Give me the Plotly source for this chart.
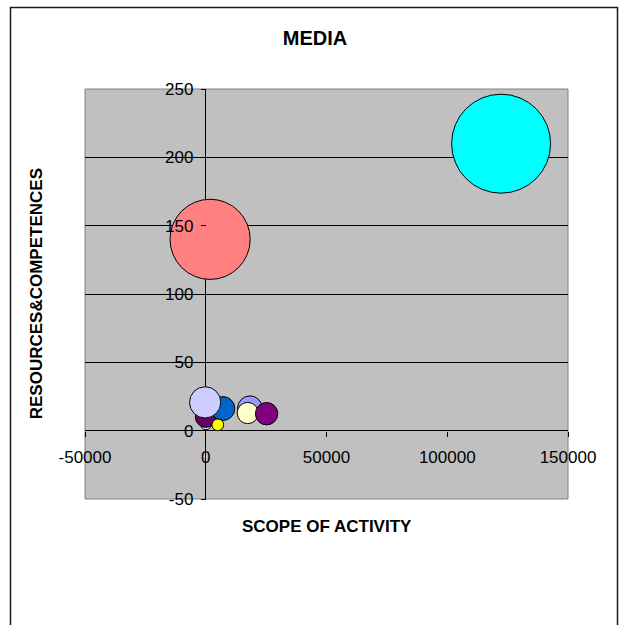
import plotly.graph_objects as go

# Media companies: scope of activity vs. resources & competences, bubble = size
scope = [18300, 17400, 100, 0, 1800, 7100, -250, 5000, 122300, 25200]
resources = [16.4, 12.9, 4.5, 10.0, 140.0, 16.2, 20.7, 4.3, 210.0, 12.4]
bubble_size = [6.25, 4.6, 1.1, 4.4, 65.6, 5.8, 10.0, 1.4, 100.0, 5.1]
colors = ["#9999FF", "#FFFFCC", "#CCFFFF", "#660066", "#FF8080",
          "#0066CC", "#CCCCFF", "#FFFF00", "#00FFFF", "#800080"]

x_ticks = [-50000, 0, 50000, 100000, 150000]
y_ticks = [-50, 0, 50, 100, 150, 200, 250]
x_range = [-50000, 150000]
y_range = [-50, 250]

W, H = 619, 625
L, R, T, B = 85, 51, 89, 125.5
plot_w = W - L - R
plot_h = H - T - B


def px_x(px):
    return (px - L) / plot_w


def px_y(py):
    return (H - B - py) / plot_h


MAX_DIAM = 99
sizeref = 2.0 * max(bubble_size) / MAX_DIAM ** 2

font_family = "Liberation Sans, Arial, sans-serif"

fig = go.Figure(
    go.Scatter(
        x=scope,
        y=resources,
        mode="markers",
        marker=dict(
            size=bubble_size,
            sizemode="area",
            sizeref=sizeref,
            color=colors,
            opacity=1,
            line=dict(color="#000000", width=1),
        ),
        hoverinfo="x+y",
        showlegend=False,
    )
)

# position of the crossing axes in paper fractions
x_cross = (0 - x_range[0]) / (x_range[1] - x_range[0])
y_cross = (0 - y_range[0]) / (y_range[1] - y_range[0])

fig.update_layout(
    width=W,
    height=H,
    margin=dict(l=L, r=R, t=T, b=B, pad=0),
    paper_bgcolor="#FFFFFF",
    plot_bgcolor="#C0C0C0",
    font=dict(family=font_family, size=17, color="#000000"),
    title=dict(
        text="<b>MEDIA</b>",
        font=dict(family=font_family, size=20, color="#000000"),
        xref="container", x=315 / W, xanchor="center",
        yref="container", y=1 - 38 / H, yanchor="middle",
    ),
    xaxis=dict(
        range=x_range,
        domain=[0, 1],
        anchor="free",
        position=y_cross,
        tickvals=x_ticks,
        ticktext=[str(v) for v in x_ticks],
        ticks="outside",
        ticklen=5,
        tickcolor="#000000",
        showgrid=False,
        zeroline=True,
        zerolinecolor="#000000",
        zerolinewidth=1,
        showline=False,
        tickfont=dict(size=17),
        ticklabelstandoff=6,
    ),
    yaxis=dict(
        range=y_range,
        domain=[0, 1],
        anchor="free",
        position=x_cross,
        tickvals=y_ticks,
        ticktext=[str(v) for v in y_ticks],
        ticks="outside",
        ticklen=5,
        tickcolor="#000000",
        showgrid=True,
        gridcolor="#000000",
        gridwidth=1,
        zeroline=True,
        zerolinecolor="#000000",
        zerolinewidth=1,
        showline=False,
        tickfont=dict(size=17),
        ticklabelstandoff=4,
    ),
    annotations=[
        dict(
            text="<b>SCOPE OF ACTIVITY</b>",
            xref="paper", yref="paper",
            x=px_x(327), y=px_y(527.5),
            xanchor="center", yanchor="middle",
            showarrow=False,
            font=dict(family=font_family, size=17),
        ),
        dict(
            text="<b>RESOURCES&amp;COMPETENCES</b>",
            xref="paper", yref="paper",
            x=px_x(36.5), y=px_y(294),
            xanchor="center", yanchor="middle",
            textangle=-90,
            showarrow=False,
            font=dict(family=font_family, size=17),
        ),
    ],
    shapes=[
        # plot area border
        dict(type="rect", xref="paper", yref="paper",
             x0=0, x1=1, y0=0, y1=1,
             line=dict(color="#808080", width=1), layer="below"),
        # chart area frame
        dict(type="rect", xref="paper", yref="paper",
             x0=px_x(10.5), x1=px_x(617.5), y0=px_y(640), y1=px_y(7.5),
             line=dict(color="#1a1a1a", width=1.5), layer="above"),
    ],
)

fig.write_html("out.html")
